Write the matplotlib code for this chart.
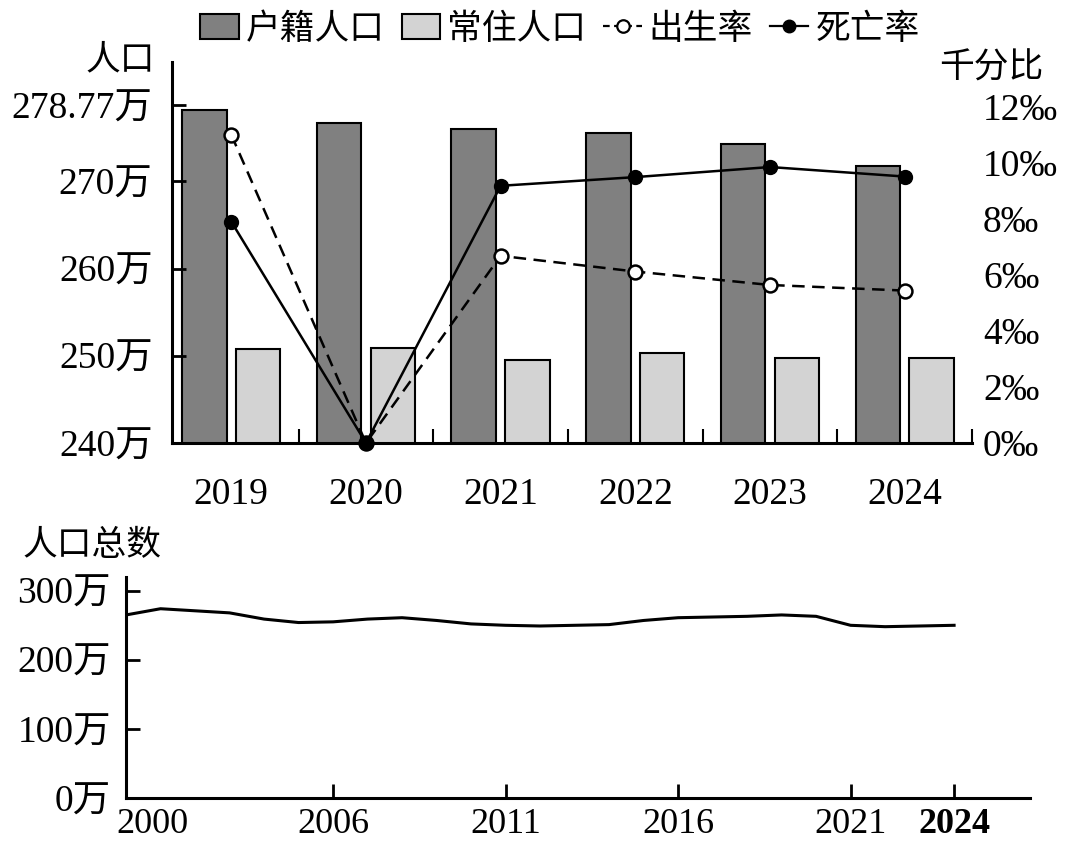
import matplotlib
matplotlib.use("Agg")
import matplotlib.pyplot as plt
import matplotlib.transforms as mtransforms
import numpy as np
from matplotlib.lines import Line2D
from matplotlib.patches import Patch

SERIF = ["Liberation Serif", "Noto Sans CJK SC"]
CJK = ["Noto Sans CJK SC", "Liberation Serif"]
plt.rcParams["font.family"] = SERIF

# top panel data
years = ["2019", "2020", "2021", "2022", "2023", "2024"]
huji = [278.2, 276.7, 276.0, 275.5, 274.3, 271.8]
changzhu = [250.8, 250.9, 249.5, 250.3, 249.7, 249.8]
birth_rate = [11.0, 0.0, 6.68, 6.12, 5.64, 5.44]
death_rate = [7.9, 0.0, 9.18, 9.49, 9.85, 9.51]
left_ticks = [240, 250, 260, 270, 278.77]
right_ticks = [0, 2, 4, 6, 8, 10, 12]

# bottom panel data
total_years = list(range(2000, 2025))
total_pop = [265, 274, 271, 268, 259, 254, 255, 259, 261, 257, 252, 250, 249,
             250, 251, 257, 261, 262, 263, 265, 263, 250, 248, 249, 250]
bottom_xticks = [2000, 2006, 2011, 2016, 2021, 2024]
bottom_yticks = [0, 100, 200, 300]

DARK = "#808080"
LIGHT = "#d3d3d3"

fig = plt.figure(figsize=(10.8, 8.43), dpi=100)

# ---- top: bars + rates
ax = fig.add_axes([0.1593, 0.4745, 0.7407, 0.452])
x = np.arange(len(years))
ax.bar(x - 0.2, huji, 0.33, color=DARK, edgecolor="black", linewidth=1.5)
ax.bar(x + 0.2, changzhu, 0.33, color=LIGHT, edgecolor="black", linewidth=1.5)
ax.set_xlim(-0.44, 5.5)
ax.set_ylim(240, 283.7)
ax.set_yticks(left_ticks, [f"{v:g}万" for v in left_ticks])
ax.set_xticks(x, years)
ax.set_xticks(x + 0.5, minor=True)
ax.tick_params(axis="y", direction="in", length=10, width=2, pad=14, labelsize=27)
ax.tick_params(axis="x", which="major", length=0, pad=25, labelsize=27)
ax.tick_params(axis="x", which="minor", direction="in", length=10, width=1.5)
for s in ["top", "right"]:
    ax.spines[s].set_visible(False)
for s in ["left", "bottom"]:
    ax.spines[s].set_linewidth(2.2)

ax2 = ax.twinx()
ax2.set_ylim(0, 13.6)
for s in ax2.spines.values():
    s.set_visible(False)
ax2.set_yticks(right_ticks, [f"{v}‰" for v in right_ticks])
ax2.tick_params(axis="y", length=0, pad=8, labelsize=27)
ax2.plot(x, birth_rate, color="black", lw=1.8, ls=(0, (5, 3)), marker="o",
         ms=10, mfc="white", mec="black", mew=1.8, clip_on=False, zorder=3)
ax2.plot(x, death_rate, color="black", lw=1.8, marker="o", ms=10,
         mfc="black", mec="black", clip_on=False, zorder=4)

handles = [
    Patch(facecolor=DARK, edgecolor="black", linewidth=1.5),
    Patch(facecolor=LIGHT, edgecolor="black", linewidth=1.5),
    Line2D([], [], color="black", lw=1.6, ls=(0, (3, 2)), marker="o", ms=9,
           mfc="white", mec="black", mew=1.6),
    Line2D([], [], color="black", lw=1.6, marker="o", ms=9, mfc="black"),
]
fig.legend(handles, ["户籍人口", "常住人口", "出生率", "死亡率"],
           loc="center", bbox_to_anchor=(0.5185, 1 - 29 / 843), ncol=4,
           frameon=False, prop={"family": CJK, "size": 25},
           handlelength=1.1, handletextpad=0.2, columnspacing=0.5,
           borderaxespad=0, borderpad=0)

fig.text(120 / 1080, 1 - 60 / 843, "人口", ha="center", va="center",
         fontsize=25, family=CJK)
fig.text(991 / 1080, 1 - 68 / 843, "千分比", ha="center", va="center",
         fontsize=25, family=CJK)

# ---- bottom: total population
ax3 = fig.add_axes([0.1167, 0.0534, 0.837, 0.2622])
ax3.plot(total_years, total_pop, color="black", lw=2.2)
ax3.set_xlim(2000, 2026.2)
ax3.set_ylim(0, 320)
ax3.set_xticks(bottom_xticks, [str(v) for v in bottom_xticks])
ax3.set_yticks(bottom_yticks, [f"{v}万" for v in bottom_yticks])
ax3.tick_params(axis="x", direction="in", length=10, width=2, pad=7, labelsize=26)
ax3.tick_params(axis="y", direction="in", length=10, width=2, pad=11, labelsize=27)
for s in ["top", "right"]:
    ax3.spines[s].set_visible(False)
for s in ["left", "bottom"]:
    ax3.spines[s].set_linewidth(2.2)
ticks3 = ax3.xaxis.get_major_ticks()
ticks3[0].label1.set_transform(ticks3[0].label1.get_transform()
                               + mtransforms.ScaledTranslation(0.26, 0, fig.dpi_scale_trans))
ticks3[-1].label1.set_fontweight("bold")

fig.text(92 / 1080, 1 - 545 / 843, "人口总数", ha="center", va="center",
         fontsize=25, family=CJK)

fig.savefig("out.png", dpi=100)
